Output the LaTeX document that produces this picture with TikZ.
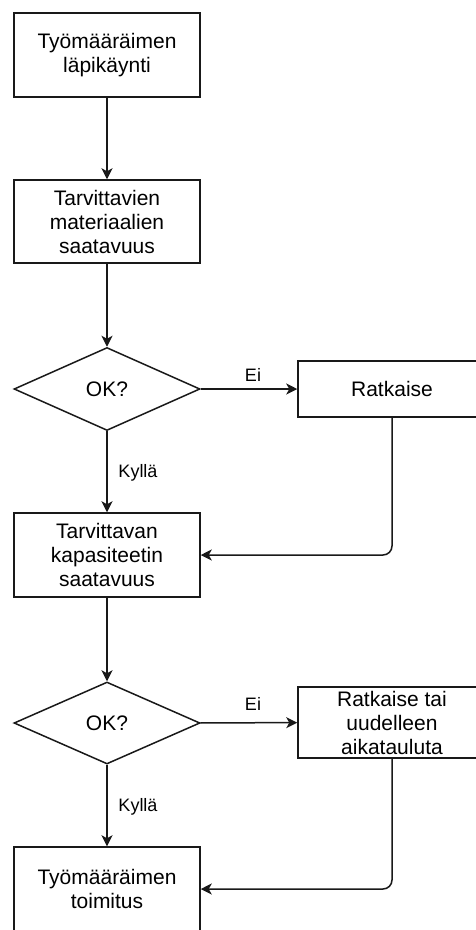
\documentclass[tikz,border=0pt]{standalone}
\usepackage{fontspec}
\setmainfont{Liberation Sans}
\usetikzlibrary{shapes.geometric,arrows.meta}
\begin{document}
\begin{tikzpicture}[x=1pt,y=-1pt,
  box/.style={draw=black!90, line width=1.5pt, fill=white, minimum width=186pt,
    minimum height=84pt, inner sep=0pt, align=center,
    font=\fontsize{21}{24}\selectfont},
  sidebox/.style={box, minimum width=188pt},
  decision/.style={diamond, draw=black!90, line width=1.5pt, minimum width=186pt,
    minimum height=83pt, inner sep=0pt, font=\fontsize{21}{24}\selectfont},
  lbl/.style={font=\fontsize{18}{20}\selectfont, inner sep=0pt},
  flow/.style={draw=black!90, line width=1.5pt,
    -{Stealth[length=11pt,width=11pt,inset=3pt]}},
  back/.style={flow, rounded corners=9pt}
]
\useasboundingbox (0,0) rectangle (476,930);
\clip (0,0) rectangle (476,930);

% main column
\node[box] (b1) at (107,55) {Työmääräimen\\läpikäynti};
\node[box, minimum height=83pt] (b2) at (107,221.5) {Tarvittavien\\materiaalien\\saatavuus};
\node[decision] (d1) at (107,389) {OK?};
\node[box] (b3) at (107,555) {Tarvittavan\\kapasiteetin\\saatavuus};
\node[decision, minimum height=82pt] (d2) at (107,723) {OK?};
\node[box] (b4) at (107,889) {Työmääräimen\\toimitus};

% side branches
\node[sidebox, minimum height=56pt] (r1) at (392,389) {Ratkaise};
\node[sidebox, minimum height=71pt] (r2) at (392,722.5) {Ratkaise tai\\uudelleen\\aikatauluta};

% connectors
\draw[flow] (b1) -- (b2);
\draw[flow] (b2) -- (d1);
\draw[flow] (d1) -- (b3);
\draw[flow] (d1) -- (r1);
\draw[back] (r1.south) |- (b3.east);
\draw[flow] (b3) -- (d2);
\draw[flow] (d2) -- (b4);
\draw[flow] (d2) -- (r2);
\draw[back] (r2.south) |- (b4.east);

% branch labels
\node[lbl] (e1) at (253,375) {Ei};
\node[lbl] (k1) at (138,473) {Kyllä};
\node[lbl] (e2) at (253,704) {Ei};
\node[lbl] (k2) at (138,807) {Kyllä};
\end{tikzpicture}
\end{document}
